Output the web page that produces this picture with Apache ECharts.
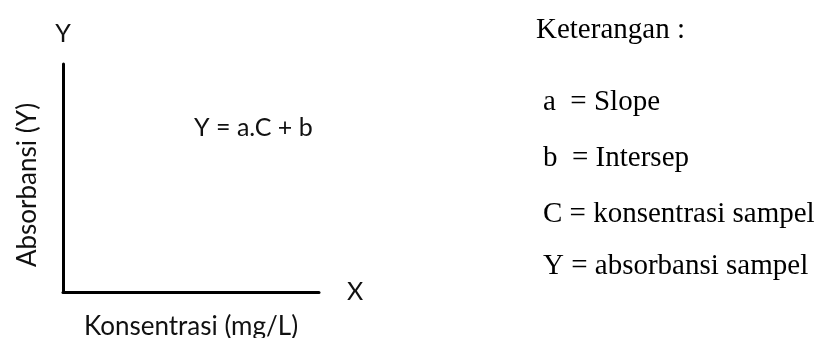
<!DOCTYPE html>
<html>
    <head>
        <meta charset="utf-8">
        <title>Kurva kalibrasi</title>
        <script src="https://cdn.jsdelivr.net/npm/echarts@6/dist/echarts.min.js"></script>
        <style>
            html, body { margin: 0; padding: 0; background: #fff; }
            #chart { width: 819px; height: 338px; }
        </style>
    </head>
    <body>
        <div id="chart"></div>
        <script type="text/javascript">
            // axis texts
            var xTitle = 'Konsentrasi (mg/L)';
            var yTitle = 'Absorbansi (Y)';
            var xEnd = 'X';
            var yEnd = 'Y';
            var formula = 'Y = a.C + b';
            // keterangan (legend on the right)
            var noteHeading = 'Keterangan :';
            var noteLines = ['a  = Slope', 'b  = Intersep', 'C = konsentrasi sampel', 'Y = absorbansi sampel'];

            var sans = 'Lato';
            var serif = 'Liberation Serif';
            var lineStyle = { color: '#000', width: 3 };

            var graphics = [{
                type: 'text',
                x: 194, y: 128,
                style: { text: formula, font: '25px ' + sans, fill: '#111', verticalAlign: 'middle' }
            }, {
                type: 'text',
                x: 536, y: 30,
                style: { text: noteHeading, font: '29px ' + serif, fill: '#000', verticalAlign: 'middle' }
            }];
            var rowMids = [102, 158, 214, 266];
            for (var i = 0; i < noteLines.length; i++) {
                graphics.push({
                    type: 'text',
                    x: 543, y: rowMids[i],
                    style: { text: noteLines[i], font: '29px ' + serif, fill: '#000', verticalAlign: 'middle' }
                });
            }

            var chart = echarts.init(document.getElementById('chart'));
            chart.setOption({
                animation: false,
                grid: { left: 63, top: 64, right: 500, bottom: 46, containLabel: false, outerBoundsMode: 'none' },
                xAxis: [{
                    type: 'value', min: 0, max: 10,
                    name: xTitle, nameLocation: 'middle', nameGap: 22,
                    nameTextStyle: { fontFamily: sans, fontSize: 26, color: '#111' },
                    axisLine: { show: true, lineStyle: lineStyle },
                    axisTick: { show: false }, axisLabel: { show: false }, splitLine: { show: false }
                }, {
                    type: 'value', min: 0, max: 10, position: 'bottom',
                    name: xEnd, nameLocation: 'end', nameGap: 28,
                    nameTextStyle: { fontFamily: sans, fontSize: 25, color: '#111' },
                    axisLine: { show: false },
                    axisTick: { show: false }, axisLabel: { show: false }, splitLine: { show: false }
                }],
                yAxis: [{
                    type: 'value', min: 0, max: 10,
                    name: yTitle, nameLocation: 'middle', nameGap: 22,
                    nameTextStyle: { fontFamily: sans, fontSize: 26, color: '#111', padding: [0, 0, 0, -14] },
                    axisLine: { show: true, lineStyle: lineStyle },
                    axisTick: { show: false }, axisLabel: { show: false }, splitLine: { show: false }
                }, {
                    type: 'value', min: 0, max: 10, position: 'left',
                    name: yEnd, nameLocation: 'end', nameGap: 18,
                    nameTextStyle: { fontFamily: sans, fontSize: 25, color: '#111', align: 'center' },
                    axisLine: { show: false },
                    axisTick: { show: false }, axisLabel: { show: false }, splitLine: { show: false }
                }],
                series: [{ type: 'line', data: [], xAxisIndex: 0, yAxisIndex: 0 }],
                graphic: graphics
            });
        </script>
    </body>
</html>
